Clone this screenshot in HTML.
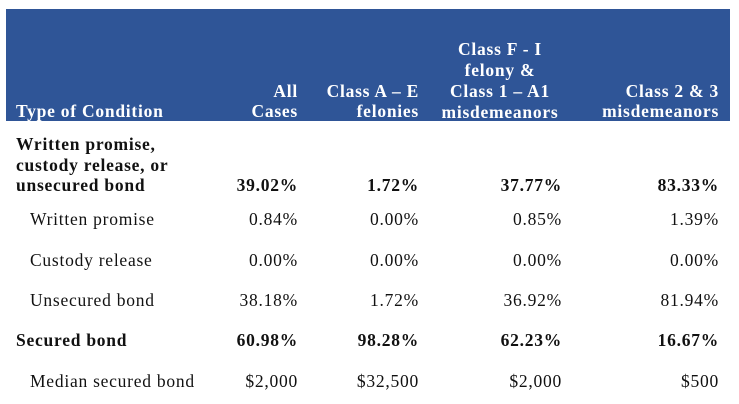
<!DOCTYPE html>
<html><head><meta charset="utf-8"><style>
body{margin:0;width:739px;height:404px;background:#fff;position:relative;overflow:hidden;font-family:"Liberation Serif",serif;font-size:17.5px;letter-spacing:0.75px;color:#111}
.band{position:absolute;left:6px;top:9px;width:724px;height:112px;background:#2F5597}
.t{position:absolute;white-space:nowrap;line-height:20px}
.h{color:#fff;font-weight:bold}
.r{text-align:right}
.c{text-align:center}
.b{font-weight:bold}
</style></head><body>
<div class="band"></div>
<div class="t h" style="left:16px;top:101px">Type of Condition</div>
<div class="t h r" style="right:441px;top:81px">All<br>Cases</div>
<div class="t h r" style="right:320px;top:81px">Class A – E<br>felonies</div>
<div class="t h c" style="left:420px;width:160px;top:39px;line-height:21px">Class F - I<br>felony &amp;<br>Class 1 – A1<br>misdemeanors</div>
<div class="t h r" style="right:20px;top:81px">Class 2 &amp; 3<br>misdemeanors</div>

<div class="t b" style="left:16px;top:134px;line-height:20.5px">Written promise,<br>custody release, or<br>unsecured bond</div>
<div class="t b r" style="right:441px;top:175px">39.02%</div>
<div class="t b r" style="right:320px;top:175px">1.72%</div>
<div class="t b r" style="right:177px;top:175px">37.77%</div>
<div class="t b r" style="right:20px;top:175px">83.33%</div>

<div class="t" style="left:30px;top:209px">Written promise</div>
<div class="t r" style="right:441px;top:209px">0.84%</div>
<div class="t r" style="right:320px;top:209px">0.00%</div>
<div class="t r" style="right:177px;top:209px">0.85%</div>
<div class="t r" style="right:20px;top:209px">1.39%</div>

<div class="t" style="left:30px;top:250px">Custody release</div>
<div class="t r" style="right:441px;top:250px">0.00%</div>
<div class="t r" style="right:320px;top:250px">0.00%</div>
<div class="t r" style="right:177px;top:250px">0.00%</div>
<div class="t r" style="right:20px;top:250px">0.00%</div>

<div class="t" style="left:30px;top:290px">Unsecured bond</div>
<div class="t r" style="right:441px;top:290px">38.18%</div>
<div class="t r" style="right:320px;top:290px">1.72%</div>
<div class="t r" style="right:177px;top:290px">36.92%</div>
<div class="t r" style="right:20px;top:290px">81.94%</div>

<div class="t b" style="left:16px;top:330px">Secured bond</div>
<div class="t b r" style="right:441px;top:330px">60.98%</div>
<div class="t b r" style="right:320px;top:330px">98.28%</div>
<div class="t b r" style="right:177px;top:330px">62.23%</div>
<div class="t b r" style="right:20px;top:330px">16.67%</div>

<div class="t" style="left:30px;top:371px">Median secured bond</div>
<div class="t r" style="right:441px;top:371px">$2,000</div>
<div class="t r" style="right:320px;top:371px">$32,500</div>
<div class="t r" style="right:177px;top:371px">$2,000</div>
<div class="t r" style="right:20px;top:371px">$500</div>
</body></html>
